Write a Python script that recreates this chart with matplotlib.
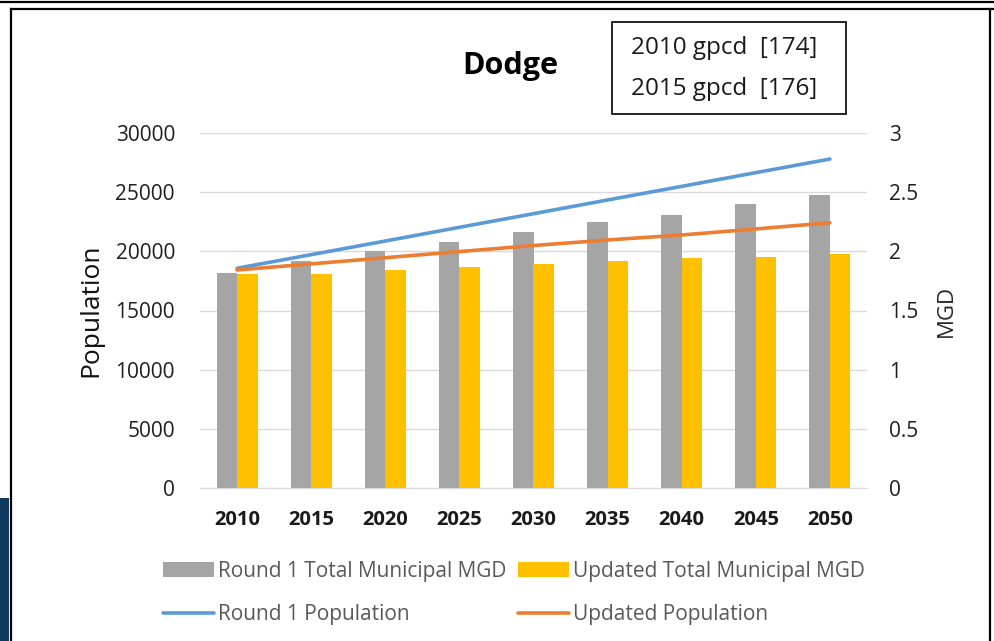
import matplotlib
matplotlib.use("Agg")
import matplotlib.pyplot as plt
from matplotlib.lines import Line2D
from matplotlib.patches import Rectangle

plt.rcParams['font.family'] = ['Open Sans', 'DejaVu Sans']

# projection years and series
years = ['2010', '2015', '2020', '2025', '2030', '2035', '2040', '2045', '2050']
round1_mgd = [1.82, 1.92, 2.00, 2.08, 2.16, 2.25, 2.31, 2.40, 2.48]
updated_mgd = [1.81, 1.81, 1.84, 1.87, 1.89, 1.92, 1.94, 1.95, 1.98]
round1_pop = [18570, 19720, 20870, 22030, 23180, 24340, 25490, 26650, 27800]
updated_pop = [18420, 18940, 19460, 19980, 20490, 20960, 21380, 21890, 22420]

pop_ticks = [0, 5000, 10000, 15000, 20000, 25000, 30000]
mgd_ticks = [0, 0.5, 1, 1.5, 2, 2.5, 3]
mgd_labels = ['0', '0.5', '1', '1.5', '2', '2.5', '3']
gpcd_notes = ['2010 gpcd  [174]', '2015 gpcd  [176]']

W, H = 994, 641
fig = plt.figure(figsize=(W / 100, H / 100), dpi=100)

def fx(px):
    return px / W

def fy(py):
    return 1 - py / H

# bars live on the MGD axis (right), lines on the population axis (left)
ax = fig.add_axes([fx(200), fy(488), fx(867) - fx(200), fy(133) - fy(488)])
x = list(range(len(years)))
bw = 0.277
ax.bar([i - bw / 2 for i in x], round1_mgd, bw, color='#A5A5A5',
       label='Round 1 Total Municipal MGD')
ax.bar([i + bw / 2 for i in x], updated_mgd, bw, color='#FFC000',
       label='Updated Total Municipal MGD')
ax.set_ylim(0, 3)
ax.set_xlim(-0.5, len(years) - 0.5)
ax.set_yticks(mgd_ticks)
ax.set_yticklabels(mgd_labels)
ax.grid(axis='y', color='#D9D9D9', linewidth=1)
ax.set_axisbelow(True)
ax.set_xticks(x)
ax.set_xticklabels(years, fontweight='bold', fontsize=14.5, color='#1a1a1a')
ax.tick_params(axis='x', length=0, pad=16)
for s in ['top', 'left', 'right']:
    ax.spines[s].set_visible(False)
ax.spines['bottom'].set_color('#D9D9D9')

axp = ax.twinx()
axp.plot(x, round1_pop, color='#5B9BD5', linewidth=2.6, solid_capstyle='round',
         label='Round 1 Population')
axp.plot(x, updated_pop, color='#ED7D31', linewidth=2.6, solid_capstyle='round',
         label='Updated Population')
axp.set_ylim(0, 30000)
axp.set_yticks(pop_ticks)
axp.yaxis.tick_left()
axp.yaxis.set_label_position('left')
axp.tick_params(axis='y', length=0, pad=18, labelsize=15, labelcolor='#1f1f1f')
for s in axp.spines.values():
    s.set_visible(False)
axp.set_ylabel('Population', fontsize=19, color='#111111')
axp.yaxis.set_label_coords(-0.145, 0.5)

# twinx moved the MGD ticks to the left, put them back on the right
ax.yaxis.tick_right()
ax.yaxis.set_label_position('right')
ax.tick_params(axis='y', length=0, pad=16, labelsize=15, labelcolor='#1f1f1f')
ax.set_ylabel('MGD', fontsize=16, color='#262626')
ax.yaxis.set_label_coords(1.103, 0.5)

# legend: bars on the first row, lines on the second
hb, lb = ax.get_legend_handles_labels()
hl, ll = axp.get_legend_handles_labels()
handles = [hb[0], hl[0], hb[1], hl[1]]
labels = [lb[0], ll[0], lb[1], ll[1]]
fig.legend(handles, labels, ncol=2, loc='center left',
           bbox_to_anchor=(fx(148), fy(593)), frameon=False,
           fontsize=15, labelcolor='#595959', handlelength=2.45,
           handletextpad=0.2, columnspacing=0.55, labelspacing=1.1,
           borderpad=0.2)

fig.text(fx(510), fy(66), 'Dodge', fontsize=22, fontweight='bold',
         ha='center', va='center', color='#000000')

# gpcd note box
fig.add_artist(Rectangle((fx(612), fy(114)), fx(846) - fx(612), fy(22) - fy(114),
                         transform=fig.transFigure, fill=False,
                         edgecolor='#000000', linewidth=1.2))
for note, py in zip(gpcd_notes, [48, 89]):
    fig.text(fx(631), fy(py), note, fontsize=17.5, ha='left', va='center',
             color='#1a1a1a')

# outer frame and side strip
frame = [
    ([0, 1], [fy(1.5), fy(1.5)]),
    ([fx(11), 1], [fy(8.5), fy(8.5)]),
    ([fx(11), fx(11)], [fy(8.5), 0]),
    ([fx(990), fx(990)], [fy(8.5), 0]),
]
for xs, ys in frame:
    fig.add_artist(Line2D(xs, ys, transform=fig.transFigure,
                          color='#000000', linewidth=1.6))
fig.add_artist(Rectangle((0, 0), fx(9), fy(498), transform=fig.transFigure,
                         facecolor='#0E3A5E', edgecolor='none'))

fig.savefig('out.png', dpi=100)
